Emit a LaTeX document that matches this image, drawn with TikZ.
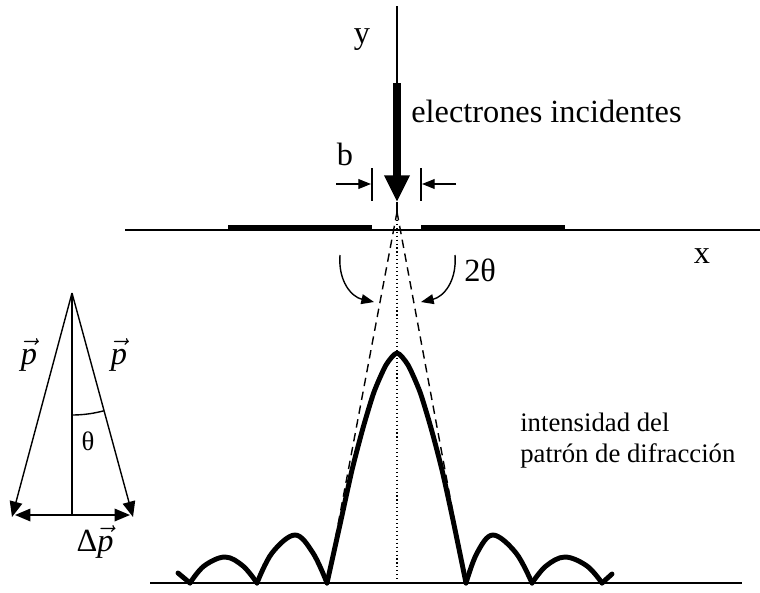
\documentclass[tikz,border=0pt]{standalone}
\usepackage{fontspec}
\setmainfont{Liberation Serif}
\usepackage{amsmath}
\usetikzlibrary{arrows.meta}
\tikzset{
  biglbl/.style={font=\fontsize{23}{27}\selectfont, inner sep=0pt},
  smalllbl/.style={font=\fontsize{19}{22}\selectfont, inner sep=0pt, align=left},
  smalltip/.style={-{Triangle[length=9pt,width=7pt]}},
  vecline/.style={line width=1pt, -{Triangle[length=11pt,width=9pt]}},
  curve/.style={line width=3.5pt, line cap=round, line join=round},
}
\newcommand{\pvec}{$\vec{\text{\itshape p}}$}

\begin{document}
\begin{tikzpicture}[x=0.025cm, y=-0.025cm, line join=round]
        \useasboundingbox (0,0) rectangle (760,592);
        % screen with the slit
        \coordinate (scrL) at (125,230);
        \coordinate (scrR) at (760,230);
        \draw[line width=1.2pt] (scrL) -- (scrR);
        \draw[line width=3pt] (228,227) -- (372,227);
        \draw[line width=3pt] (421,227) -- (565,227);
        \node[biglbl, anchor=base] (xlbl) at (702,263) {x};
        % incident beam
        \coordinate (beamTop) at (397,6);
        \coordinate (beamA) at (397,83);
        \coordinate (beamB) at (397,202);
        \coordinate (slit) at (397,213);
        \draw[line width=1pt] (beamTop) -- (beamA);
        \draw[line width=6pt, -{Triangle[length=19pt,width=17pt]}] (beamA) -- (beamB);
        \draw[line width=1pt] (beamB) -- (slit);
        \node[biglbl, anchor=base] (ylbl) at (362,43) {y};
        \node[biglbl, anchor=base west] (beamlbl) at (411,122) {electrones incidentes};
        % slit width b
        \coordinate (bL1) at (372,168); \coordinate (bL2) at (372,201);
        \coordinate (bR1) at (421,168); \coordinate (bR2) at (421,201);
        \draw[line width=0.8pt] (bL1) -- (bL2);
        \draw[line width=0.8pt] (bR1) -- (bR2);
        \coordinate (bLs) at (336,184); \coordinate (bLe) at (371,184);
        \coordinate (bRs) at (456,184); \coordinate (bRe) at (422,184);
        \draw[line width=0.8pt, smalltip] (bLs) -- (bLe);
        \draw[line width=0.8pt, smalltip] (bRs) -- (bRe);
        \node[biglbl, anchor=base] (blbl) at (345,165) {b};
        % diffraction cone
        \coordinate (apex) at (397,212);
        \coordinate (zeroL) at (327,583);
        \coordinate (zeroR) at (466,583);
        \coordinate (axisEnd) at (397,583);
        \draw[line width=1pt, dash pattern=on 6pt off 4pt] (apex) -- (zeroL);
        \draw[line width=1pt, dash pattern=on 6pt off 4pt] (apex) -- (zeroR);
        \draw[line width=0.8pt, dotted] (apex) -- (axisEnd);
        % angle 2theta
        \coordinate (angL) at (340,255); \coordinate (angLe) at (374,302);
        \coordinate (angR) at (455,255); \coordinate (angRe) at (421,302);
        \draw[line width=1pt, smalltip] (angL) .. controls (338,282) and (352,297) .. (angLe);
        \draw[line width=1pt, smalltip] (angR) .. controls (457,282) and (443,297) .. (angRe);
        \node[biglbl, anchor=base west] (thlbl) at (464,281) {2θ};
        % intensity pattern
        \coordinate (baseL) at (150,583);
        \coordinate (baseR) at (742,583);
        \draw[line width=1.2pt] (baseL) -- (baseR);
        \draw[curve] plot[smooth, tension=0.6] coordinates {(178,573) (190,583)};
        \draw[curve] plot[smooth, tension=0.6] coordinates {(190,583) (204,566) (225,557) (243,566) (257,583)};
        \draw[curve] plot[smooth, tension=0.6] coordinates {(257,583) (272,553) (295,535) (313,553) (327,583)};
        \draw[curve] plot[smooth, tension=0.4] coordinates {(327,583) (341,520) (352,470) (363,428) (374,392)
                                                         (386,365) (397,353) (408,365) (420,392) (431,428)
                                                         (442,470) (453,520) (466,583)};
        \draw[curve] plot[smooth, tension=0.6] coordinates {(466,583) (477,553) (493,535) (516,553) (532,583)};
        \draw[curve] plot[smooth, tension=0.6] coordinates {(532,583) (546,566) (565,557) (587,566) (602,583)};
        \draw[curve] plot[smooth, tension=0.6] coordinates {(602,583) (612,574)};
        \node[smalllbl, anchor=base west] (intlbl) at (520,462) {intensidad del\\patrón de difracción};
        % momentum triangle
        \coordinate (pTop) at (72,293);
        \coordinate (pL) at (12,517);
        \coordinate (pR) at (133,517);
        \coordinate (pMid) at (72,515);
        \draw[line width=1pt] (pTop) -- (pMid);
        \draw[vecline] (pTop) -- (pL);
        \draw[vecline] (pTop) -- (pR);
        \draw[vecline] (pMid) -- (15,515);
        \draw[vecline] (pMid) -- (130,515);
        \draw[line width=1pt] (72,415) arc[start angle=-90, end angle=-74.9, radius=122*0.025cm];
        \node[biglbl] (pLlbl) at (29,355) {\pvec};
        \node[biglbl] (pRlbl) at (119,355) {\pvec};
        \node[smalllbl] (thetalbl) at (88,441) {θ};
        \node[biglbl] (dplbl) at (95,542) {Δ\pvec};
\end{tikzpicture}
\end{document}
